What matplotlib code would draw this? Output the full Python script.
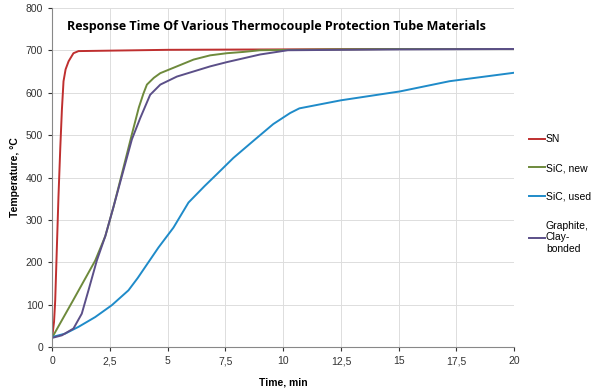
import matplotlib
matplotlib.use("Agg")
import matplotlib.pyplot as plt
from matplotlib.ticker import FuncFormatter

# time (min) / temperature (degC)
sn_t = [0, 0.08, 0.13, 0.27, 0.35, 0.42, 0.49, 0.58, 0.71, 0.92, 1.14, 5, 10, 15, 20]
sn_v = [24, 60, 110, 353, 470, 560, 627, 655, 674, 693, 698, 701, 702, 703, 703]

sic_new_t = [0, 0.9, 1.86, 2.3, 2.65, 3.0, 3.45, 3.75, 3.95, 4.1, 4.4, 4.68, 5.4, 6.12,
             6.84, 7.56, 8.27, 9.0, 12, 15, 20]
sic_new_v = [23, 110, 204, 262, 330, 405, 502, 565, 598, 619, 635, 646, 662, 678,
             688, 693, 696, 700, 702, 703, 703]

sic_used_t = [0, 0.56, 1.14, 1.86, 2.58, 3.3, 3.7, 4.1, 4.6, 5.25, 5.9, 6.6, 7.13, 7.84,
              8.7, 9.57, 10.3, 10.7, 12.5, 15.06, 17.2, 20]
sic_used_v = [24, 32, 48, 71, 99, 134, 163, 195, 235, 282, 341, 380, 408, 446,
              486, 526, 552, 563, 582, 603, 627, 647]

graphite_t = [0, 0.42, 0.92, 1.28, 1.57, 1.93, 2.3, 2.65, 3.0, 3.45, 3.81, 4.24, 4.68,
              5.4, 6.12, 6.84, 7.56, 8.28, 9.0, 10.2, 15, 20]
graphite_v = [22, 28, 44, 79, 134, 204, 262, 330, 400, 490, 540, 595, 619,
              638, 650, 662, 672, 681, 690, 700, 702, 703]

series = [
    ("SN", sn_t, sn_v, "#bf2f2f"),
    ("SiC, new", sic_new_t, sic_new_v, "#6e8a3c"),
    ("SiC, used", sic_used_t, sic_used_v, "#1f8bc9"),
    ("Graphite,\nClay-\nbonded", graphite_t, graphite_v, "#5b4f88"),
]

plt.rcParams["font.family"] = ["Liberation Sans", "DejaVu Sans"]

fig = plt.figure(figsize=(6, 3.91), dpi=100)
ax = fig.add_axes([0.087, 0.112, 0.770, 0.868])

for label, t, v, color in series:
    ax.plot(t, v, color=color, linewidth=1.4, label=label, solid_joinstyle="round")

ax.set_xlim(0, 20)
ax.set_ylim(0, 800)
ax.set_xticks([0, 2.5, 5, 7.5, 10, 12.5, 15, 17.5, 20])
ax.set_yticks(range(0, 801, 100))
ax.xaxis.set_major_formatter(FuncFormatter(lambda x, p: f"{x:g}".replace(".", ",")))
ax.tick_params(labelsize=7.5, colors="#333333", length=3, width=0.8)
ax.grid(True, color="#dddddd", linewidth=0.7)
ax.set_axisbelow(True)
for s in ["top", "right"]:
    ax.spines[s].set_visible(False)
for s in ["left", "bottom"]:
    ax.spines[s].set_color("#888888")

ax.set_xlabel("Time, min", fontsize=7.5, fontweight="bold", labelpad=8)
ax.set_ylabel("Temperature, °C", fontsize=7.5, fontweight="bold", labelpad=4)

ax.text(0.033, 0.965, "Response Time Of Various Thermocouple Protection Tube Materials",
        transform=ax.transAxes, fontsize=9, fontweight="bold",
        family=["Open Sans", "DejaVu Sans"], va="top", ha="left")

fig.legend(loc="upper left", bbox_to_anchor=(0.875, 0.667), frameon=False,
           fontsize=7.5, handlelength=1.5, handletextpad=0.1, labelspacing=1.8,
           borderaxespad=0)

fig.savefig("out.png", dpi=100)
